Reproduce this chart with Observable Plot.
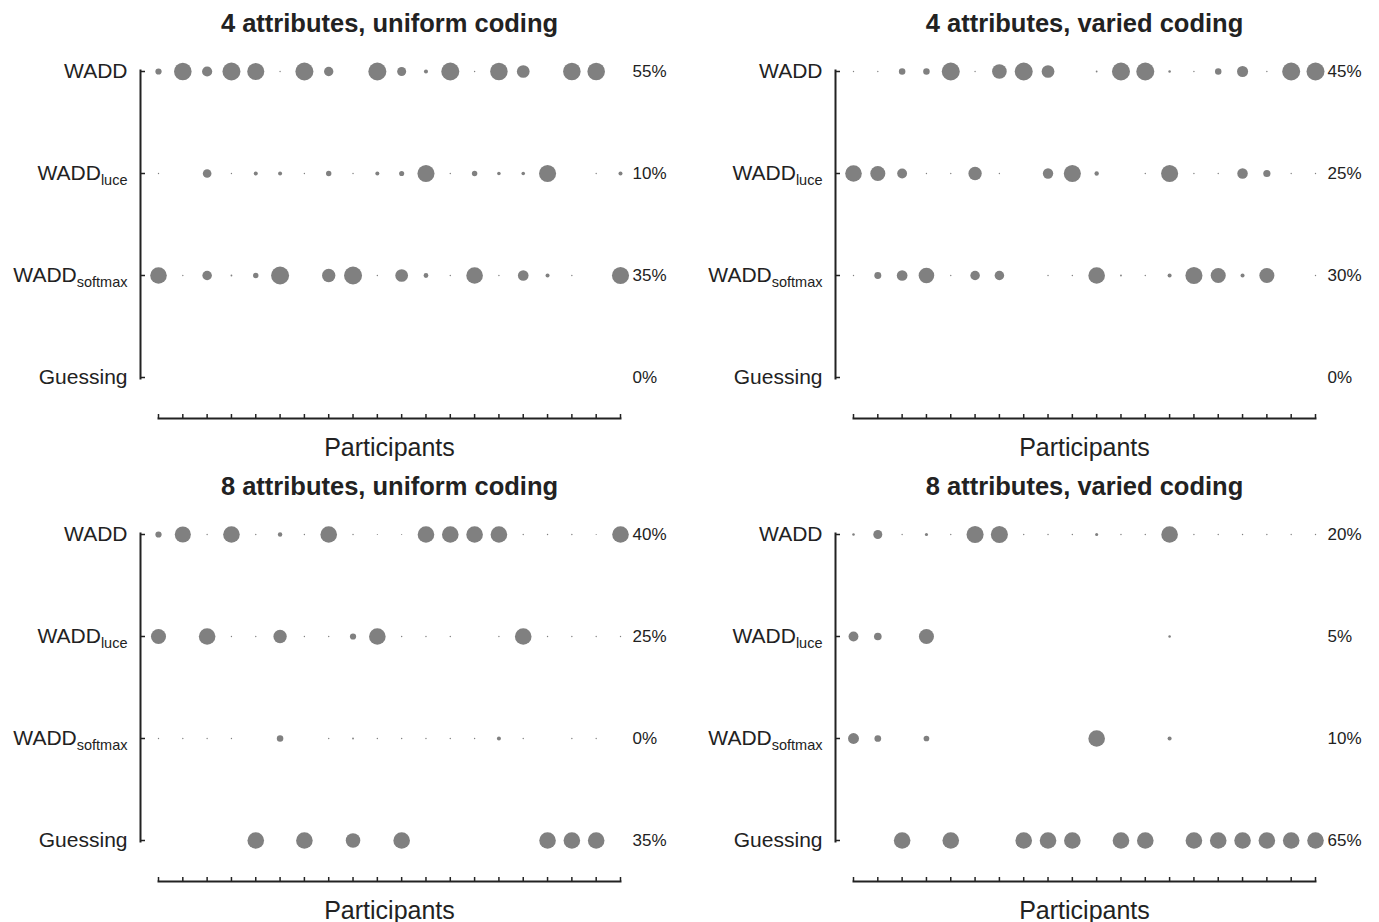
<!DOCTYPE html>
<html><head><meta charset="utf-8">
<script src="https://cdn.jsdelivr.net/npm/d3@7"></script>
<script src="https://cdn.jsdelivr.net/npm/@observablehq/plot@0.6"></script>
<style>
body{margin:0;background:#fff;}
#root{position:relative;width:1379px;height:922px;overflow:hidden;font-family:"Liberation Sans",Arial,sans-serif;}
.panel{position:absolute;}
</style></head><body><div id="root"></div>
<script>
const participants = d3.range(1, 21);
const strategies = ["WADD", "WADD_luce", "WADD_softmax", "Guessing"];
const titles = ["4 attributes, uniform coding", "4 attributes, varied coding", "8 attributes, uniform coding", "8 attributes, varied coding"];
const axisTitle = "Participants";

// 4 attributes, uniform coding
const tlWADD    = [0.12,0.95,0.32,1.0,0.9,0.006,1.0,0.27,0,1.0,0.25,0.05,1.0,0.006,0.95,0.5,0,0.95,0.95,0];
const tlLuce    = [0.006,0,0.23,0.006,0.05,0.05,0.006,0.09,0.006,0.05,0.08,0.9,0.006,0.09,0.04,0.04,0.9,0,0.006,0.05];
const tlSoftmax = [0.85,0.006,0.28,0.01,0.09,1.0,0,0.55,1.0,0.006,0.5,0.07,0.006,0.85,0.006,0.35,0.05,0.006,0,0.9];
const tlGuess   = [0,0,0,0,0,0,0,0,0,0,0,0,0,0,0,0,0,0,0,0];
const tlPct     = ["55%","10%","35%","0%"];

// 4 attributes, varied coding
const trWADD    = [0.006,0.006,0.13,0.13,1.0,0.006,0.66,1.0,0.5,0,0.01,1.0,1.0,0.02,0.006,0.13,0.38,0.006,1.0,1.0];
const trLuce    = [0.85,0.7,0.3,0.006,0.006,0.55,0.006,0,0.33,0.9,0.06,0,0.006,0.9,0.006,0.006,0.34,0.16,0.006,0.006];
const trSoftmax = [0.006,0.15,0.35,0.75,0.006,0.28,0.28,0,0.006,0.006,0.85,0.01,0.006,0.05,0.9,0.7,0.05,0.7,0,0.006];
const trGuess   = [0,0,0,0,0,0,0,0,0,0,0,0,0,0,0,0,0,0,0,0];
const trPct     = ["45%","25%","30%","0%"];

// 8 attributes, uniform coding
const blWADD    = [0.12,0.8,0.006,0.85,0.006,0.06,0.006,0.85,0.006,0.004,0.004,0.85,0.85,0.85,0.85,0.006,0.006,0.006,0.004,0.85];
const blLuce    = [0.7,0,0.85,0.006,0.006,0.55,0.006,0.006,0.12,0.85,0.006,0.006,0.006,0,0.006,0.85,0.006,0.006,0.006,0.006];
const blSoftmax = [0.006,0.006,0.006,0.006,0,0.13,0,0.006,0.01,0.006,0.006,0.006,0.006,0.006,0.05,0.006,0,0.006,0.006,0];
const blGuess   = [0,0,0,0,0.85,0,0.85,0,0.65,0,0.85,0,0,0,0,0,0.85,0.85,0.85,0];
const blPct     = ["40%","25%","0%","35%"];

// 8 attributes, varied coding
const brWADD    = [0.02,0.25,0.006,0.03,0.006,0.9,0.9,0.006,0.006,0.006,0.03,0.006,0.006,0.85,0.006,0.006,0.006,0.006,0.006,0.006];
const brLuce    = [0.3,0.18,0,0.7,0,0,0,0,0,0,0,0,0,0.02,0,0,0,0,0,0];
const brSoftmax = [0.37,0.14,0,0.1,0,0,0,0,0,0,0.85,0,0,0.05,0,0,0,0,0,0];
const brGuess   = [0,0,0.85,0,0.85,0,0,0.85,0.85,0.85,0,0.85,0.85,0,0.85,0.85,0.85,0.85,0.85,0.85];
const brPct     = ["20%","5%","10%","65%"];

const panels = [
  {title: titles[0], series: [tlWADD, tlLuce, tlSoftmax, tlGuess], pct: tlPct, left: 0, top: 0},
  {title: titles[1], series: [trWADD, trLuce, trSoftmax, trGuess], pct: trPct, left: 695, top: 0},
  {title: titles[2], series: [blWADD, blLuce, blSoftmax, blGuess], pct: blPct, left: 0, top: 463},
  {title: titles[3], series: [brWADD, brLuce, brSoftmax, brGuess], pct: brPct, left: 695, top: 463}
];

const ink = "#222";
const root = document.getElementById("root");

for (const pn of panels) {
  const data = [];
  strategies.forEach((s, k) => pn.series[k].forEach((p, i) => data.push({participant: participants[i], strategy: s, p})));
  const rows = strategies.map((s, k) => ({strategy: s, label: pn.pct[k]}));
  const svg = Plot.plot({
    width: 684, height: 459,
    marginTop: 70, marginBottom: 81, marginLeft: 140, marginRight: 64,
    style: {fontFamily: "'Liberation Sans', Arial, sans-serif", color: ink, background: "transparent", overflow: "visible"},
    x: {domain: [1, 20], insetLeft: 18},
    y: {type: "point", domain: strategies, padding: 0},
    r: {type: "sqrt", domain: [0, 1], range: [0, 9]},
    marks: [
      Plot.frame({anchor: "left", stroke: ink, strokeWidth: 2}),
      Plot.axisY({anchor: "left", tickSize: -5, tickPadding: 18, fontSize: 21, strokeWidth: 1.5, tickFormat: d => d, label: null}),
      Plot.axisX(participants, {anchor: "bottom", tickSize: -4, tickFormat: () => "", label: null, dy: 40, strokeWidth: 1.5}),
      Plot.frame({anchor: "bottom", insetLeft: 18, dy: 40, stroke: ink, strokeWidth: 2}),
      Plot.dot(data, {x: "participant", y: "strategy", r: "p", fill: "#808080"}),
      Plot.text(rows, {y: "strategy", text: "label", frameAnchor: "right", textAnchor: "start", dx: 12, fontSize: 17, fill: ink}),
      Plot.text([pn.title], {frameAnchor: "top", dy: -47, dx: 9, fontSize: 25.5, fontWeight: "bold", lineAnchor: "middle", fill: ink}),
      Plot.text([axisTitle], {frameAnchor: "bottom", dy: 69, dx: 9, fontSize: 25, lineAnchor: "middle", fill: ink})
    ]
  });
  // subscripts on the strategy labels
  svg.querySelectorAll('[aria-label="y-axis tick label"] text').forEach(t => {
    const s = t.textContent;
    if (s.includes("_")) {
      const [base, sub] = s.split("_");
      t.textContent = "";
      const ns = "http://www.w3.org/2000/svg";
      const a = document.createElementNS(ns, "tspan"); a.textContent = base;
      const b = document.createElementNS(ns, "tspan"); b.textContent = sub;
      b.setAttribute("font-size", "14.5"); b.setAttribute("dy", "0.35em");
      t.appendChild(a); t.appendChild(b);
    }
  });
  svg.classList.add("panel");
  svg.style.left = pn.left + "px";
  svg.style.top = pn.top + "px";
  svg.style.position = "absolute";
  root.appendChild(svg);
}
</script></body></html>
